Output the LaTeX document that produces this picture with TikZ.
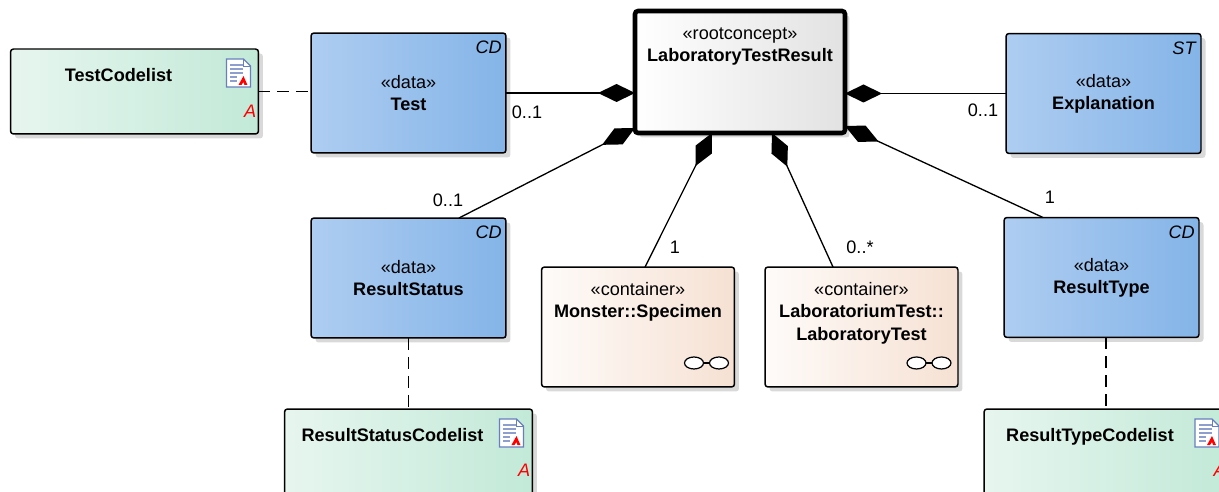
\documentclass[tikz,border=0pt]{standalone}
\usepackage{fontspec}
\setmainfont{Liberation Sans}
\usetikzlibrary{positioning,arrows.meta,shadows}

\definecolor{datal}{RGB}{174,205,241}
\definecolor{datar}{RGB}{132,180,232}
\definecolor{codel}{RGB}{231,246,239}
\definecolor{coder}{RGB}{194,233,216}
\definecolor{contl}{RGB}{254,251,249}
\definecolor{contr}{RGB}{246,225,211}
\definecolor{rootr}{RGB}{226,226,226}
\definecolor{iconblue}{RGB}{104,126,190}

\begin{document}
\begin{tikzpicture}[x=0.02cm, y=-0.02cm,
    font=\fontsize{10.3pt}{12.7pt}\selectfont,
    cls/.style={draw=black, line width=0.85pt, rounded corners=0.06cm, inner sep=0pt, outer sep=0pt, align=center,
        drop shadow={shadow xshift=0.09cm, shadow yshift=-0.09cm, fill=black!15, opacity=1}},
    datacls/.style={cls, left color=datal, right color=datar, minimum width=3.9cm, minimum height=2.4cm},
    codecls/.style={cls, left color=codel, right color=coder, minimum width=4.96cm},
    contcls/.style={cls, left color=contl, right color=contr, minimum width=3.86cm, minimum height=2.4cm},
    rootcls/.style={cls, line width=2.6pt, left color=white, right color=rootr, minimum width=4.2cm, minimum height=2.44cm},
    cornertag/.style={anchor=north east, inner xsep=0.08cm, inner ysep=0.16cm},
    redA/.style={anchor=east, inner sep=0.04cm, text=red},
    mult/.style={inner sep=0pt},
    comp/.style={line width=0.75pt, -{Diamond[length=0.74cm, width=0.36cm]}},
    dep/.style={line width=0.75pt, dash pattern=on 0.24cm off 0.14cm},
    pics/codeicon/.style={code={
        \fill[white] (-12,-14) -- (5,-14) -- (12,-7) -- (12,14) -- (-12,14) -- cycle;
        \draw[iconblue, line width=0.7pt] (-12,-14) -- (5,-14) -- (12,-7) -- (12,14) -- (-12,14) -- cycle;
        \draw[iconblue, line width=0.5pt] (5,-14) -- (5,-7) -- (12,-7);
        \foreach \yy in {-8,-4,0} \draw[iconblue!75, line width=0.9pt] (-8,\yy) -- (5,\yy);
        \foreach \yy in {4,8} \draw[iconblue!75, line width=0.9pt] (-8,\yy) -- (-1,\yy);
        \fill[red] (0,12) -- (5,3) -- (9,12) -- (6,12) -- (5,9) -- (3,12) -- cycle;
    }},
    pics/glasses/.style={code={
        \draw[line width=0.7pt, fill=white] (-12.5,0) ellipse [x radius=0.19cm, y radius=0.12cm];
        \draw[line width=0.7pt, fill=white] (12.5,0) ellipse [x radius=0.19cm, y radius=0.12cm];
        \draw[line width=0.7pt] (-3,0) -- (3,0);
    }}]

    \path[use as bounding box] (0,0) rectangle (1219,492);
    \clip (0,0) rectangle (1219,492);

    % Classes
    \node[codecls, minimum height=1.7cm] (tcode) at (134.5,91.5) {};
    \node[datacls] (test) at (408.5,93) {«data»\\\textbf{Test}};
    \node[rootcls] (root) at (740,72) {};
    \node[datacls] (expl) at (1103.5,93.5) {«data»\\\textbf{Explanation}};
    \node[datacls] (rstatus) at (408.5,278) {«data»\\\textbf{ResultStatus}};
    \node[contcls] (specimen) at (638,327) {};
    \node[contcls] (labtest) at (861.5,327) {};
    \node[datacls] (rtype) at (1101.5,277.5) {«data»\\\textbf{ResultType}};
    \node[codecls, minimum height=1.8cm] (rscode) at (408.5,454) {};
    \node[codecls, minimum height=1.8cm, minimum width=4.88cm] (rtcode) at (1106,454) {};

    % Titles placed from the top edge
    \node[below=0.32cm of root.north, inner sep=0pt, align=center] (roottxt) {«rootconcept»\\\textbf{LaboratoryTestResult}};
    \node[below=0.3cm of specimen.north, inner sep=0pt, align=center] (spectxt) {«container»\\\textbf{Monster::Specimen}};
    \node[below=0.3cm of labtest.north, inner sep=0pt, align=center] (labtxt) {«container»\\\textbf{LaboratoriumTest::}\\\textbf{LaboratoryTest}};
    \node[below=0.38cm of tcode.north, xshift=-0.32cm, inner sep=0pt] (tcodetxt) {\textbf{TestCodelist}};
    \node[below=0.38cm of rscode.north, xshift=-0.32cm, inner sep=0pt] (rscodetxt) {\textbf{ResultStatusCodelist}};
    \node[below=0.38cm of rtcode.north, xshift=-0.32cm, inner sep=0pt] (rtcodetxt) {\textbf{ResultTypeCodelist}};

    % Corner tags
    \node[cornertag] (testcd) at (test.north east) {\textit{CD}};
    \node[cornertag] (explst) at (expl.north east) {\textit{ST}};
    \node[cornertag] (rstatuscd) at (rstatus.north east) {\textit{CD}};
    \node[cornertag] (rtypecd) at (rtype.north east) {\textit{CD}};
    \node[redA] (tcodeA) at ([yshift=-1.24cm]tcode.north east) {\textit{A}};
    \node[redA] (rscodeA) at ([yshift=-1.22cm]rscode.north east) {\textit{A}};
    \node[redA] (rtcodeA) at ([yshift=-1.22cm]rtcode.north east) {\textit{A}};

    % Icons
    \pic at ([xshift=-0.4cm, yshift=-0.48cm]tcode.north east) {codeicon};
    \pic at ([xshift=-0.42cm, yshift=-0.48cm]rscode.north east) {codeicon};
    \pic at ([xshift=-0.42cm, yshift=-0.48cm]rtcode.north east) {codeicon};
    \pic at ([xshift=-0.56cm, yshift=0.48cm]specimen.south east) {glasses};
    \pic at ([xshift=-0.58cm, yshift=0.48cm]labtest.south east) {glasses};

    % Dependencies
    \draw[dep] (tcode.east) -- (tcode.east -| test.west);
    \draw[dep] (rstatus.south) -- (rscode.north);
    \draw[dep] ([xshift=0.09cm]rtype.south) -- ([xshift=0.09cm]rtype.south |- rtcode.north);

    % Compositions
    \draw[comp] (test.east) -- (test.east -| root.west);
    \draw[comp] (expl.west) -- (expl.west -| root.east);
    \draw[comp] ([xshift=1.01cm]rstatus.north) -- ([yshift=0.1cm]root.south west);
    \draw[comp] ([xshift=0.14cm]specimen.north) -- ([xshift=-0.56cm]root.south);
    \draw[comp] ([xshift=-0.57cm]labtest.north) -- ([xshift=0.64cm]root.south);
    \draw[comp] ([xshift=-1.17cm]rtype.north) -- ([yshift=0.14cm]root.south east);

    % Multiplicities
    \node[mult] (m1) at (527,112) {0..1};
    \node[mult] (m2) at (983,110) {0..1};
    \node[mult] (m3) at (448,200) {0..1};
    \node[mult] (m4) at (675,247) {1};
    \node[mult] (m5) at (860,247) {0..*};
    \node[mult] (m6) at (1050,197) {1};
\end{tikzpicture}
\end{document}
